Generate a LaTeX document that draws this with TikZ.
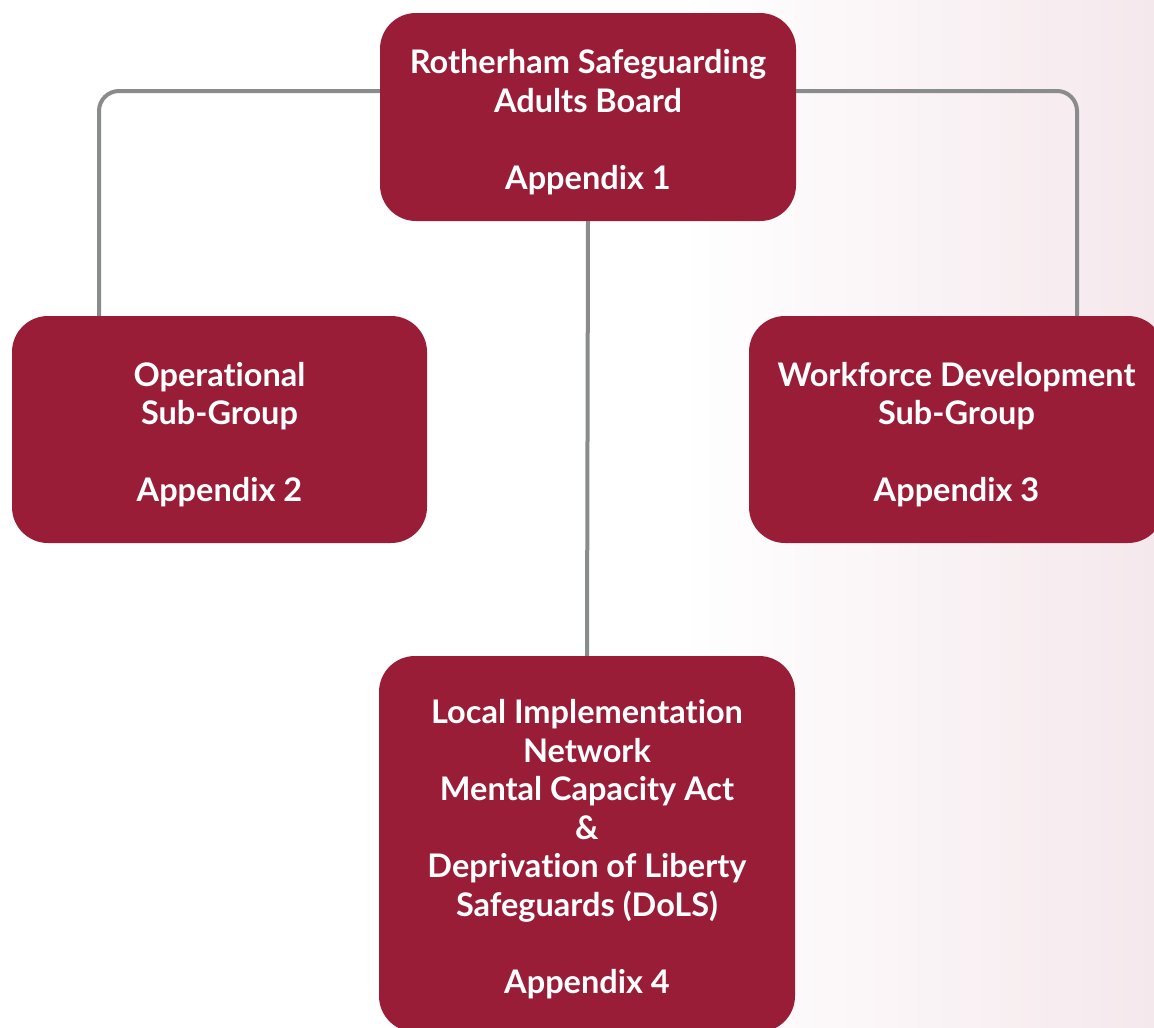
\documentclass[tikz,border=0pt]{standalone}
\usepackage{fontspec}
\setmainfont[Ligatures=NoCommon]{Lato}
\definecolor{boxred}{HTML}{9A1D38}
\definecolor{conngray}{HTML}{8A8B8C}
\definecolor{bgpink}{HTML}{F5E8EC}
\begin{document}
\begin{tikzpicture}[x=1pt,y=1pt,
  orgbox/.style={fill=boxred, rounded corners=36pt, inner sep=0pt},
  boxtext/.style={inner sep=0pt, text=white,
    font=\fontsize{32.5}{38.5}\selectfont\bfseries, align=center},
  conn/.style={draw=conngray, line width=4pt, rounded corners=20pt}]
\useasboundingbox (0,0) rectangle (1154,-1028);
\clip (0,0) rectangle (1154,-1028);
\fill[white] (0,0) rectangle (1154,-1028);
\shade[left color=white, right color=bgpink] (680,0) rectangle (1154,-1028);
\node[orgbox, minimum width=416pt, minimum height=208pt] (top) at (588,-117) {};
\node[orgbox, minimum width=415pt, minimum height=227pt] (left) at (219.5,-429.5) {};
\node[orgbox, minimum width=415pt, minimum height=227pt] (right) at (956.5,-429.5) {};
\node[orgbox, minimum width=416pt, minimum height=376pt] (bottom) at (587,-844) {};
\node[boxtext] (toptext) at ([yshift=-5pt]top.center)
  {Rotherham Safeguarding\\Adults Board\\[38.5pt]Appendix 1};
\node[boxtext] (lefttext) at ([yshift=-5pt]left.center)
  {Operational\\Sub-Group\\[38.5pt]Appendix 2};
\node[boxtext] (righttext) at ([yshift=-5pt]right.center)
  {Workforce Development\\Sub-Group\\[38.5pt]Appendix 3};
\node[boxtext] (bottomtext) at ([yshift=-5pt]bottom.center)
  {Local Implementation\\Network\\Mental Capacity Act\\\&\\Deprivation of Liberty\\Safeguards (DoLS)\\[38.5pt]Appendix 4};
\draw[conn] ([yshift=26pt]top.west) -| ([xshift=-120.5pt]left.north);
\draw[conn] ([yshift=26pt]top.east) -| ([xshift=120.5pt]right.north);
\draw[conn] (top.south) -- (bottom.north);
\end{tikzpicture}
\end{document}
